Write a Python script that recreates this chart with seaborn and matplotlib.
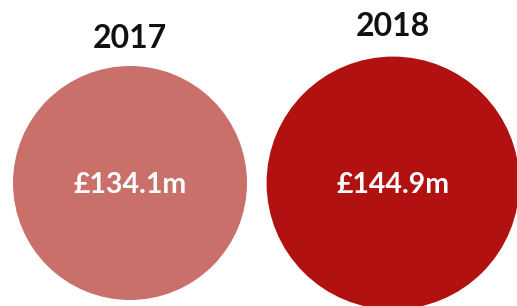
import matplotlib
matplotlib.use("Agg")
import matplotlib.pyplot as plt
from matplotlib.patches import Circle
import seaborn as sns

sns.set_theme(style="white")
plt.rcParams["font.family"] = ["Lato", "DejaVu Sans"]

years = ["2017", "2018"]
values = [134.1, 144.9]
labels = ["£134.1m", "£144.9m"]
colors = ["#C9706A", "#B11110"]

# layout in pixel units
W, H = 517, 306
px_per_unit = 117 / 134.1          # radius scales with value
centres_x = [130, 393]
centre_y = 183
title_y = [38, 27]

fig = plt.figure(figsize=(W / 100, H / 100), dpi=100)
ax = fig.add_axes([0, 0, 1, 1])
ax.set_xlim(0, W)
ax.set_ylim(H, 0)
ax.set_aspect("equal")
ax.axis("off")

for i, (yr, v, lab, c) in enumerate(zip(years, values, labels, colors)):
    r = v * px_per_unit
    ax.add_patch(Circle((centres_x[i], centre_y), r, color=c, lw=0))
    ax.text(centres_x[i], centre_y + 2, lab, ha="center", va="center",
            color="white", fontsize=20.5, fontweight="bold")
    ax.text(centres_x[i], title_y[i], yr, ha="center", va="center",
            color="#111111", fontsize=23, fontweight="bold")

fig.savefig("out.png", dpi=100)
